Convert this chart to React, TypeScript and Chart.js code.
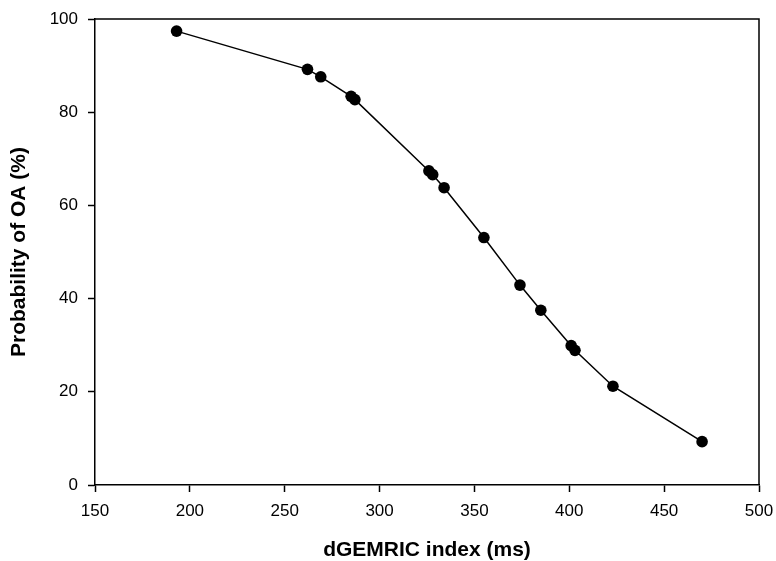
import React, { useEffect, useRef } from "react";
import { Chart, registerables } from "chart.js";

Chart.register(...registerables);

const dgemricIndex = [193, 262, 269, 285, 287, 326, 328, 334, 355, 374, 385, 401, 403, 423, 470];
const probabilityOA = [97.4, 89.2, 87.6, 83.4, 82.7, 67.4, 66.6, 63.8, 53.1, 42.9, 37.5, 29.9, 28.9, 21.2, 9.3];
const xTicks = [150, 200, 250, 300, 350, 400, 450, 500];
const yTicks = [0, 20, 40, 60, 80, 100];

const framePlugin = {
  id: "frame",
  afterDraw(chart: any) {
    const { ctx, chartArea } = chart;
    ctx.save();
    ctx.strokeStyle = "#000";
    ctx.lineWidth = 1.5;
    ctx.beginPath();
    ctx.moveTo(chartArea.left, chartArea.top);
    ctx.lineTo(chartArea.right, chartArea.top);
    ctx.lineTo(chartArea.right, chartArea.bottom);
    ctx.stroke();
    ctx.restore();
  },
};

const FONT = "'Liberation Sans', Arial, sans-serif";

export default function App() {
  const ref = useRef<HTMLCanvasElement | null>(null);

  useEffect(() => {
    if (!ref.current) return;
    const data = dgemricIndex.map((x, i) => ({ x, y: probabilityOA[i] }));
    const chart = new Chart(ref.current, {
      type: "scatter",
      data: {
        datasets: [
          {
            data,
            showLine: true,
            borderColor: "#000",
            backgroundColor: "#000",
            borderWidth: 1.5,
            pointRadius: 5.8,
            pointHoverRadius: 5.8,
            pointBorderWidth: 0,
          },
        ],
      },
      options: {
        animation: false,
        responsive: false,
        maintainAspectRatio: false,
        layout: { padding: { left: 0, right: 17, top: 19, bottom: 0 } },
        plugins: { legend: { display: false }, tooltip: { enabled: false } },
        scales: {
          x: {
            type: "linear",
            min: 150,
            max: 500,
            afterBuildTicks: (scale: any) => {
              scale.ticks = xTicks.map((v) => ({ value: v }));
            },
            afterFit: (scale: any) => {
              scale.height = 76;
              scale.paddingLeft = 0;
              scale.paddingRight = 0;
            },
            grid: {
              drawOnChartArea: false,
              drawTicks: true,
              tickLength: 7,
              tickWidth: 1.5,
              tickColor: "#000",
            },
            border: { display: true, color: "#000", width: 1.5 },
            ticks: {
              color: "#000",
              padding: 9,
              maxRotation: 0,
              font: { family: FONT, size: 17 },
            },
            title: {
              display: true,
              text: "dGEMRIC index (ms)",
              color: "#000",
              padding: { top: 0, bottom: 0 },
              font: { family: FONT, size: 21, weight: "bold", lineHeight: 1.0 },
            },
          },
          y: {
            type: "linear",
            min: 0,
            max: 100,
            afterBuildTicks: (scale: any) => {
              scale.ticks = yTicks.map((v) => ({ value: v }));
            },
            afterFit: (scale: any) => {
              scale.width = 95;
              scale.paddingTop = 0;
              scale.paddingBottom = 0;
            },
            grid: {
              drawOnChartArea: false,
              drawTicks: true,
              tickLength: 7,
              tickWidth: 1.5,
              tickColor: "#000",
            },
            border: { display: true, color: "#000", width: 1.5 },
            ticks: {
              color: "#000",
              padding: 10,
              font: { family: FONT, size: 17 },
            },
            title: {
              display: true,
              text: "Probability of OA (%)",
              color: "#000",
              padding: { top: 9, bottom: 0 },
              font: { family: FONT, size: 21, weight: "bold", lineHeight: 1.0 },
            },
          },
        },
      },
      plugins: [framePlugin],
    });
    return () => chart.destroy();
  }, []);

  return (
    <div style={{ position: "fixed", left: 0, top: 0, width: 776, height: 561, background: "#fff" }}>
      <canvas ref={ref} width={776} height={561} style={{ width: 776, height: 561, display: "block" }} />
    </div>
  );
}
